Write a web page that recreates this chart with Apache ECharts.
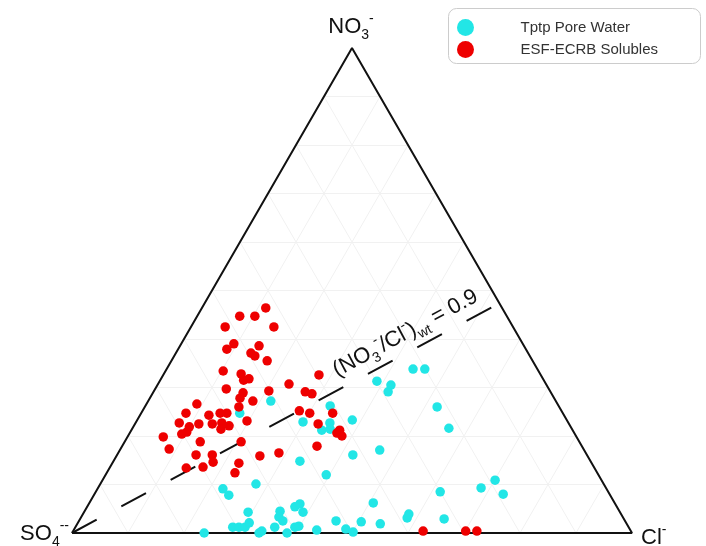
<!DOCTYPE html>
<html><head><meta charset="utf-8">
<script src="https://cdn.jsdelivr.net/npm/echarts@6/dist/echarts.min.js"></script>
<style>html,body{margin:0;padding:0;background:#fff}#c{width:706px;height:546px}</style>
</head><body><div id="c"></div>
<script>
// Series names
const seriesNames = ['Tptp Pore Water', 'ESF-ECRB Solubles'];
// Ternary compositions (percent). SO4 = 100 - NO3 - Cl
const poreNO3 = [27.2,24.7,26.2,22.9,22.7,21.2,21.4,23.3,31.3,30.5,29.1,33.8,33.8,26.0,21.6,16.1,17.1,14.8,12.0,10.1,9.1,7.8,4.3,0.0,1.2,1.2,1.2,2.1,0.0,0.4,1.2,4.5,3.3,2.5,0.0,5.4,6.0,4.3,1.2,1.4,0.6,2.5,0.8,0.2,2.3,6.2,1.9,3.1,3.9,8.5,2.9,9.3,10.9,8.0];
const poreCl  = [21.9,17.6,33.0,29.8,34.7,34.0,35.4,38.4,38.8,41.7,41.9,44.0,46.1,52.2,56.5,42.1,46.4,33.3,39.4,27.8,22.4,24.1,29.3,23.6,28.1,29.2,30.3,30.6,33.4,33.7,35.6,34.9,35.3,36.4,38.4,37.1,37.7,39.1,39.2,39.8,43.4,45.9,48.5,50.1,50.5,50.7,54.1,58.3,58.2,61.5,65.0,68.4,70.1,73.0];
const esfNO3  = [46.4,44.7,44.7,42.5,42.5,37.9,39.0,38.6,37.1,36.5,35.5,33.4,32.8,31.5,31.8,32.6,29.7,30.7,29.3,29.1,28.7,28.9,27.8,27.2,26.6,24.7,24.3,24.7,24.7,26.0,22.7,21.9,22.5,22.5,22.7,22.1,21.4,23.1,19.8,20.4,20.8,18.8,17.3,18.8,16.1,16.1,14.6,13.6,13.4,14.4,12.4,15.9,16.5,25.2,24.7,24.7,22.5,21.2,20.0,20.6,17.9,0.4,0.4,0.4];
const esfCl   = [11.4,7.6,10.3,6.1,14.8,8.7,9.4,14.1,13.4,14.4,17.1,10.3,13.8,14.9,15.7,27.8,12.7,23.4,20.5,27.1,28.5,16.1,16.1,18.7,9.0,8.0,12.3,14.1,15.3,16.8,7.8,10.0,11.4,13.8,15.4,17.0,15.9,19.7,6.4,9.4,10.1,13.5,8.7,20.8,14.1,17.0,17.9,16.6,13.7,22.6,22.9,25.6,28.7,28.0,30.1,34.2,32.7,37.2,38.2,37.0,34.8,62.5,70.1,72.1];
// Reference ratio line (NO3-/Cl-) by weight
const ratioValue = 0.9;
const gridStep = 10;

const H = 100 * Math.sqrt(3) / 2;
function toXY(no3, cl) { return [cl + no3 / 2, no3 * H / 100]; }

const pore = poreNO3.map((v, i) => toXY(v, poreCl[i]));
const esf = esfNO3.map((v, i) => toXY(v, esfCl[i]));

const gridLines = [];
for (let k = gridStep; k < 100; k += gridStep) {
  gridLines.push({coords: [toXY(k, 0), toXY(k, 100 - k)]});
  gridLines.push({coords: [toXY(0, k), toXY(100 - k, k)]});
  gridLines.push({coords: [toXY(0, 100 - k), toXY(100 - k, 0)]});
}
const ratioEnd = toXY(100 * ratioValue / (1 + ratioValue), 100 / (1 + ratioValue));

const chart = echarts.init(document.getElementById('c'), null, {renderer: 'canvas'});
const FONT = 'Arial, "Liberation Sans", sans-serif';
chart.setOption({
  animation: false,
  backgroundColor: '#fff',
  grid: {left: 72, top: 48, width: 560, height: 485},
  xAxis: {type: 'value', min: 0, max: 100, show: false},
  yAxis: {type: 'value', min: 0, max: H, show: false},
  legend: {
    orient: 'vertical', left: 452, top: 14, itemWidth: 100, itemHeight: 17, itemGap: 5,
    icon: 'circle', data: seriesNames,
    textStyle: {fontSize: 15, color: '#333', fontFamily: FONT}
  },
  series: [
    {type: 'lines', coordinateSystem: 'cartesian2d', silent: true, z: 1,
     lineStyle: {color: '#f1f1f1', width: 1, opacity: 1}, data: gridLines},
    {type: 'line', silent: true, symbol: 'none', z: 3,
     lineStyle: {color: '#111', width: 2}, data: [[0, 0], [50, H], [100, 0], [0, 0]]},
    {type: 'line', silent: true, symbol: 'none', z: 3,
     lineStyle: {color: '#111', width: 2, type: [28, 28]}, data: [[0, 0], ratioEnd]},
    {name: seriesNames[0], type: 'scatter', symbolSize: 9.5, z: 4,
     itemStyle: {color: '#22e6e6', opacity: 1}, data: pore},
    {name: seriesNames[1], type: 'scatter', symbolSize: 9.5, z: 5,
     itemStyle: {color: '#ee0000', opacity: 1}, data: esf}
  ]
});

const pTop = chart.convertToPixel({gridIndex: 0}, [50, H]);
const pL = chart.convertToPixel({gridIndex: 0}, [0, 0]);
const pR = chart.convertToPixel({gridIndex: 0}, [100, 0]);
const pE = chart.convertToPixel({gridIndex: 0}, ratioEnd);
const dx = pE[0] - pL[0], dy = pE[1] - pL[1];
const len = Math.sqrt(dx * dx + dy * dy);
const nx = dy / len, ny = -dx / len;
const t = 0.80, off = 18;
const lblX = pL[0] + t * dx + off * nx, lblY = pL[1] + t * dy + off * ny;
const rot = Math.atan2(-dy, dx);

function rich(fs) {
  return {
    b: {fontSize: fs, fontFamily: FONT, fill: '#111', lineHeight: fs + 8},
    sub: {fontSize: Math.round(fs * 0.62), fontFamily: FONT, fill: '#111', lineHeight: Math.round(fs * 0.62), verticalAlign: 'bottom'},
    sup: {fontSize: Math.round(fs * 0.62), fontFamily: FONT, fill: '#111', lineHeight: Math.round(fs * 0.62), verticalAlign: 'top'}
  };
}
chart.setOption({
  graphic: [
    {type: 'rect', left: 448, top: 8, shape: {width: 252, height: 55, r: 8}, z: -1,
     style: {fill: '#fff', stroke: '#cccccc', lineWidth: 1}},
    {type: 'text', x: pTop[0] - 1, y: pTop[1] - 21, z: 10,
     style: {text: '{b|NO}{sub|3}{sup|-}', align: 'center', verticalAlign: 'middle', rich: rich(22)}},
    {type: 'text', x: pL[0] - 3, y: pL[1] + 1, z: 10,
     style: {text: '{b|SO}{sub|4}{sup|--}', align: 'right', verticalAlign: 'middle', rich: rich(22)}},
    {type: 'text', x: pR[0] + 9, y: pR[1] + 5, z: 10,
     style: {text: '{b|Cl}{sup|-}', align: 'left', verticalAlign: 'middle', rich: rich(22)}},
    {type: 'text', x: lblX, y: lblY, rotation: rot, z: 10,
     style: {text: '{b|(NO}{sub|3}{sup|-}{b|/Cl}{sup|-}{b|)}{sub|wt}{b| = 0.9}', align: 'center', verticalAlign: 'middle', rich: rich(22)}}
  ]
});
</script></body></html>
